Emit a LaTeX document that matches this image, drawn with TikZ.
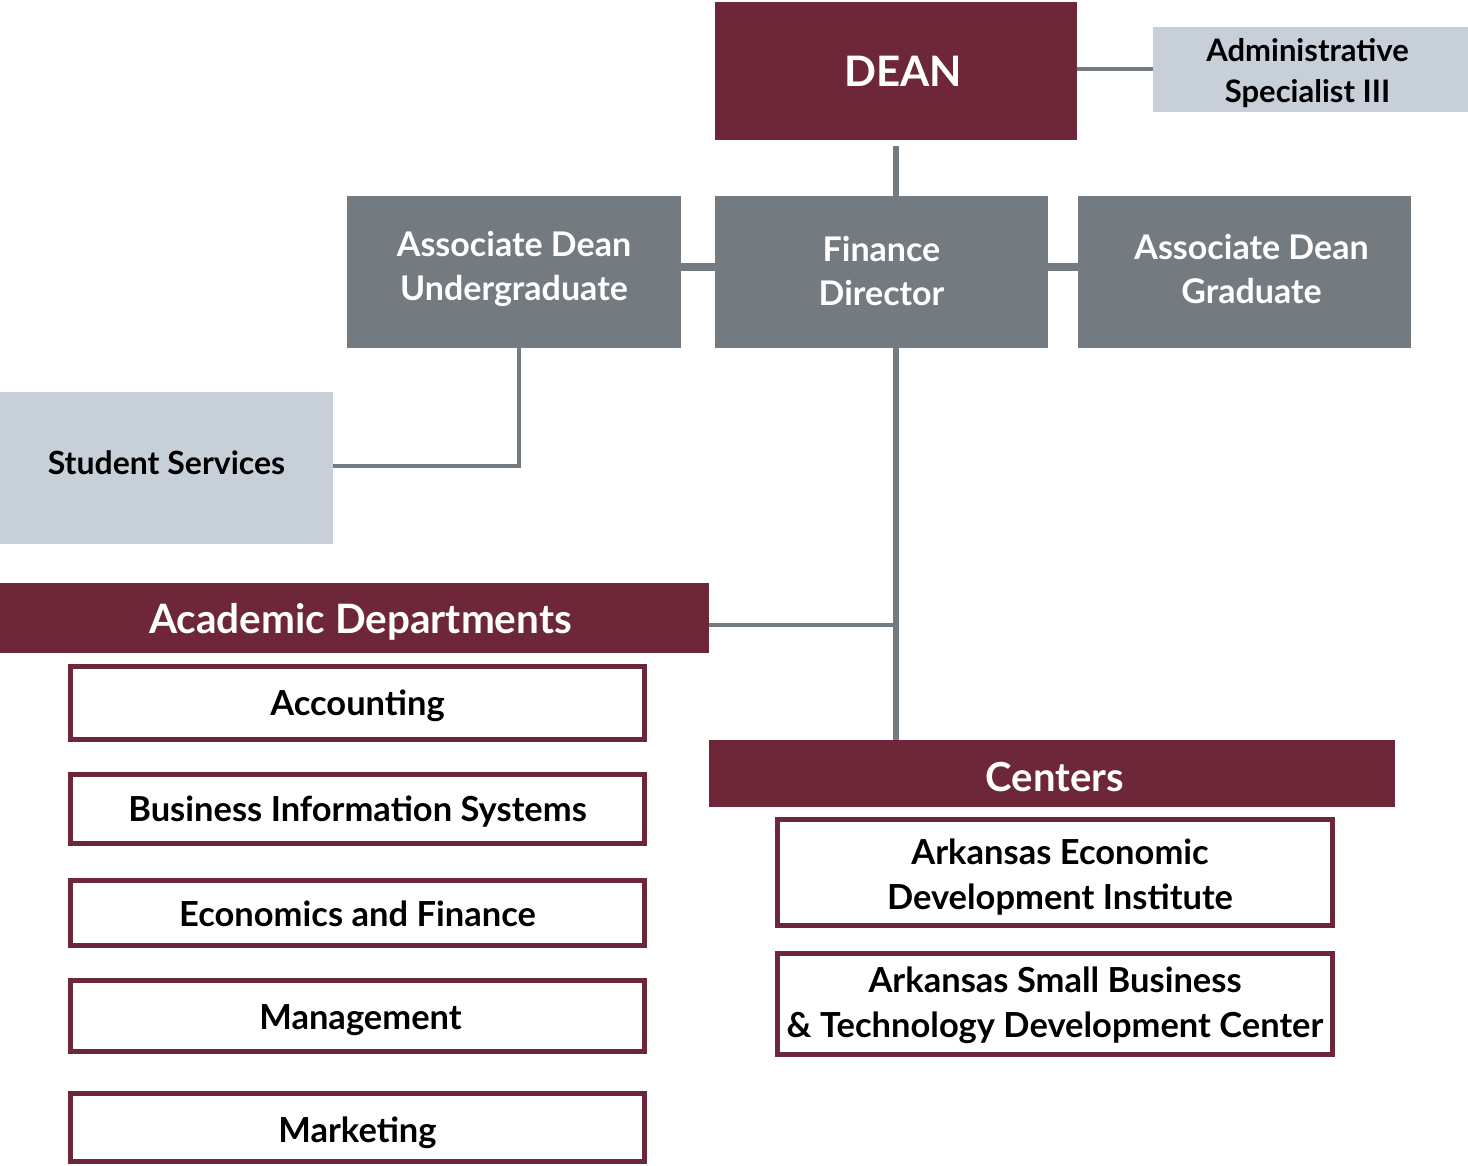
\documentclass[tikz,border=0pt]{standalone}
\usepackage{fontspec}
\setmainfont{Lato}
\definecolor{maroon}{HTML}{6D2739}
\definecolor{slate}{HTML}{737B80}
\definecolor{pale}{HTML}{C7CFD8}
\tikzset{
  box/.style={rectangle, inner sep=0pt},
  darkbox/.style={box, fill=maroon},
  graybox/.style={box, fill=slate},
  palebox/.style={box, fill=pale},
  unitbox/.style={box, fill=white, draw=maroon, line width=5pt},
  tx/.style n args={3}{label={[align=center, inner sep=0pt, font=#1, shift={#2}]center:{#3}}},
  link/.style={draw=slate, line width=#1},
  link/.default=4pt
}
\newcommand{\whitefont}[1]{\color{white}\bfseries\fontsize{#1}{44}\selectfont}
\newcommand{\blackfont}[1]{\color{black}\bfseries\fontsize{#1}{45}\selectfont}
\begin{document}
\begin{tikzpicture}[x=1pt, y=-1pt]
\useasboundingbox (0,0) rectangle (1468,1166);

\node[darkbox, minimum width=362, minimum height=138, tx={\whitefont{42}}{(7pt,0pt)}{DEAN}] (dean) at (896,71) {};
\node[palebox, minimum width=315, minimum height=85, tx={\color{black}\bfseries\fontsize{31}{41}\selectfont}{(-3pt,-4pt)}{Administrative\\Specialist III}] (admin) at (1310.5,69.5) {};

\node[graybox, minimum width=334, minimum height=152, tx={\whitefont{34}}{(0pt,3pt)}{Associate Dean\\Undergraduate}] (adug) at (514,272) {};
\node[graybox, minimum width=333, minimum height=152, tx={\whitefont{34}}{(0pt,1pt)}{Finance\\Director}] (fd) at (881.5,272) {};
\node[graybox, minimum width=333, minimum height=152, tx={\whitefont{34}}{(7pt,3pt)}{Associate Dean\\Graduate}] (adg) at (1244.5,272) {};

\node[palebox, minimum width=333, minimum height=152, tx={\blackfont{32}}{(0pt,5pt)}{Student Services}] (ss) at (166.5,468) {};

\node[darkbox, minimum width=709, minimum height=70, tx={\whitefont{40.5}}{(6pt,-4pt)}{Academic Departments}] (acad) at (354.5,618) {};
\node[darkbox, minimum width=686, minimum height=67, tx={\whitefont{40}}{(3pt,-4pt)}{Centers}] (centers) at (1052,773.5) {};

\node[unitbox, minimum width=574, minimum height=73, tx={\blackfont{34.5}}{(0pt,-3pt)}{Accounting}] (acc) at (357.5,703) {};
\node[unitbox, minimum width=574, minimum height=69, tx={\blackfont{34.5}}{(0pt,-3pt)}{Business Information Systems}] (bis) at (357.5,809) {};
\node[unitbox, minimum width=574, minimum height=65, tx={\blackfont{34.5}}{(0pt,-1pt)}{Economics and Finance}] (ef) at (357.5,913) {};
\node[unitbox, minimum width=574, minimum height=71, tx={\blackfont{34.5}}{(3pt,-4pt)}{Management}] (mgmt) at (357.5,1016) {};
\node[unitbox, minimum width=574, minimum height=68, tx={\blackfont{34.5}}{(0pt,-5pt)}{Marketing}] (mkt) at (357.5,1127.5) {};

\node[unitbox, minimum width=555, minimum height=106, tx={\blackfont{34.5}}{(5pt,-5pt)}{Arkansas Economic\\Development Institute}] (aedi) at (1055,872.5) {};
\node[unitbox, minimum width=555, minimum height=101, tx={\blackfont{34.5}}{(0pt,-1pt)}{Arkansas Small Business\\\& Technology Development Center}] (asbtdc) at (1055,1004) {};

% connectors
\draw[link] (admin.west -| dean.east) -- (admin.west);
\draw[link=6pt] ([yshift=-6pt]dean.south) -- (dean.south |- fd.north);
\draw[link=8pt] ([yshift=5pt]adug.east) -- ([yshift=5pt]fd.west);
\draw[link=8pt] ([yshift=5pt]fd.east) -- ([yshift=5pt]adg.west);
\draw[link] ([xshift=5pt]adug.south) |- ([yshift=2pt]ss.east);
\draw[link=6pt] (fd.south -| dean.south) -- (centers.north -| dean.south);
\draw[link] ([yshift=-7pt]acad.east) -- ([yshift=-7pt]acad.east -| dean.south);
\end{tikzpicture}
\end{document}
